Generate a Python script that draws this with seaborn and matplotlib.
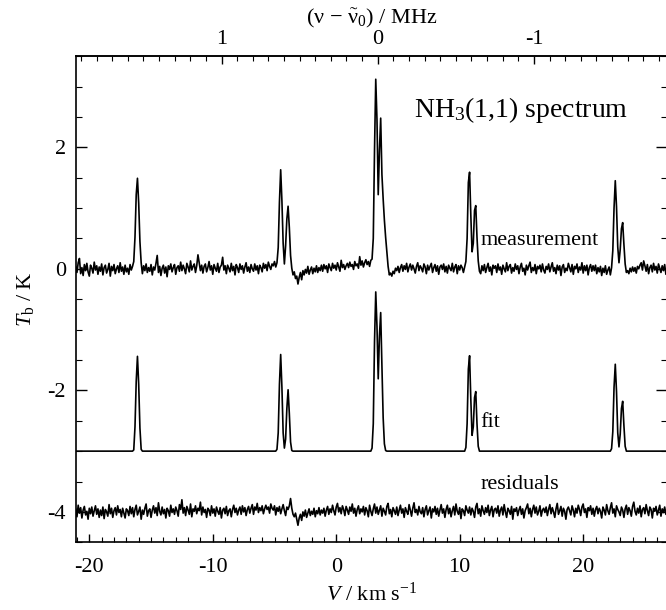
import numpy as np
import seaborn as sns
import matplotlib.pyplot as plt
from matplotlib.ticker import MultipleLocator, FixedLocator

# channel grid of the spectrum (km/s)
V_START = -21.1
DV = 0.1

# measured brightness temperature per channel (K), 20 channels per row
meas_t = [
    0.04, -0.06, 0.10, 0.17, -0.08, 0.02, -0.11, 0.07, -0.03, 0.09, -0.05, -0.12, 0.06, 0.01, -0.07, 0.11, -0.02, 0.05, -0.09, 0.03,
    -0.04, 0.08, -0.10, 0.02, 0.06, -0.07, -0.01, 0.09, -0.12, 0.04, -0.03, 0.07, -0.08, 0.00, 0.05, -0.06, 0.10, -0.04, 0.03, -0.09,
    0.06, -0.05, 0.01, -0.09, 0.07, -0.02, 0.04, 0.12, 0.52, 1.22, 1.49, 1.08, 0.45, 0.10, -0.08, 0.05, -0.03, 0.08, -0.06, 0.02,
    -0.04, 0.07, -0.10, 0.03, -0.02, 0.09, 0.22, -0.06, 0.04, -0.11, 0.01, 0.06, -0.07, 0.03, -0.13, 0.05, -0.01, 0.08, -0.05, 0.02,
    0.07, -0.09, 0.02, 0.05, -0.04, 0.11, -0.03, 0.06, 0.00, -0.08, 0.09, 0.03, -0.05, 0.13, -0.02, 0.04, 0.08, -0.06, 0.05, 0.23,
    0.10, -0.03, 0.06, -0.07, 0.04, 0.08, -0.05, 0.02, 0.12, -0.02, 0.05, -0.09, 0.07, 0.01, -0.04, 0.09, -0.06, 0.03, 0.06, 0.19,
    -0.02, 0.05, -0.08, 0.06, 0.01, -0.05, 0.09, -0.03, 0.04, -0.10, 0.07, 0.02, -0.06, 0.08, -0.01, 0.05, -0.07, 0.03, 0.10, -0.04,
    0.03, -0.06, 0.07, 0.00, -0.04, 0.08, -0.02, 0.05, -0.08, 0.06, 0.02, -0.05, 0.09, 0.01, 0.07, -0.03, 0.11, 0.04, -0.01, 0.08,
    0.05, 0.12, 0.03, 0.10, 0.35, 1.10, 1.63, 1.12, 0.42, 0.08, 0.38, 0.82, 1.03, 0.68, 0.22, 0.01, -0.10, -0.05, -0.16, -0.12,
    -0.25, -0.14, -0.06, -0.18, -0.03, -0.10, -0.01, -0.07, 0.04, -0.09, -0.02, 0.03, -0.08, 0.01, -0.05, 0.05, -0.06, 0.02, -0.03, 0.06,
    -0.04, 0.07, 0.00, 0.05, -0.06, 0.08, 0.02, -0.03, 0.09, 0.01, 0.06, -0.02, 0.10, 0.03, -0.04, 0.14, 0.02, 0.07, -0.01, 0.05,
    0.09, 0.02, 0.11, 0.04, 0.07, -0.01, 0.12, 0.05, 0.08, 0.01, 0.20, 0.06, 0.13, 0.03, 0.10, 0.15, 0.07, 0.12, 0.04, 0.14,
    0.16, 0.50, 1.95, 3.12, 2.45, 1.22, 1.95, 2.48, 1.55, 1.15, 0.80, 0.52, 0.28, 0.04, -0.10, -0.07, -0.12, -0.04, -0.08, 0.01,
    -0.03, 0.04, -0.06, 0.02, 0.07, -0.04, 0.05, -0.01, 0.09, -0.05, 0.03, 0.08, -0.02, 0.06, 0.00, -0.07, 0.04, 0.10, -0.03, 0.05,
    0.01, -0.05, 0.08, 0.03, -0.08, 0.06, -0.02, 0.04, 0.09, -0.06, 0.02, 0.07, -0.04, 0.05, -0.09, 0.03, 0.06, -0.01, 0.08, -0.05,
    0.04, -0.07, 0.06, 0.01, -0.03, 0.09, -0.05, 0.03, 0.07, -0.08, 0.05, -0.02, 0.06, 0.02, -0.06, 0.03, 0.12, 0.50, 1.42, 1.59,
    0.88, 0.28, 0.42, 0.96, 1.04, 0.52, 0.13, -0.04, -0.08, 0.05, -0.03, 0.07, -0.06, 0.02, 0.09, -0.04, 0.03, -0.10, 0.06, 0.01,
    0.05, -0.06, 0.08, -0.02, 0.03, -0.09, 0.06, 0.00, -0.05, 0.10, -0.03, 0.04, 0.07, -0.07, 0.02, -0.04, 0.08, -0.01, 0.05, -0.08,
    0.03, 0.09, -0.04, 0.01, -0.10, 0.06, -0.02, 0.05, 0.11, -0.06, 0.02, -0.03, 0.07, -0.08, 0.04, 0.00, 0.06, -0.05, 0.08, -0.02,
    -0.07, 0.04, -0.01, 0.08, -0.05, 0.03, 0.10, -0.04, 0.02, -0.08, 0.06, -0.02, 0.05, -0.11, 0.03, 0.07, -0.06, 0.01, -0.03, 0.09,
    0.02, -0.05, 0.07, -0.09, 0.04, 0.00, 0.08, -0.06, 0.03, -0.02, 0.10, -0.07, 0.05, -0.03, 0.06, -0.10, 0.02, 0.07, -0.04, 0.05,
    -0.03, 0.06, -0.08, 0.02, -0.05, 0.04, -0.11, 0.01, -0.06, 0.05, -0.09, -0.02, 0.03, -0.10, 0.02, 0.30, 1.00, 1.45, 1.02, 0.36,
    0.10, 0.32, 0.66, 0.76, 0.40, 0.08, -0.06, -0.03, -0.08, 0.01, -0.05, 0.03, -0.04, 0.02, -0.07, 0.04, 0.00, 0.06, 0.10, -0.02,
    0.13, 0.05, -0.04, 0.07, -0.08, 0.02, 0.06, -0.05, 0.09, -0.02, 0.04, -0.07, 0.08, 0.01, -0.06, 0.05, -0.03, 0.07, -0.09, 0.03,
]

# residuals (measurement - fit) per channel (K)
resid_t = [
    0.05, -0.08, 0.11, -0.02, 0.07, -0.10, 0.03, 0.09, -0.05, 0.01, -0.12, 0.06, -0.03, 0.08, -0.07, 0.02, 0.10, -0.04, 0.05, -0.09,
    0.03, -0.06, 0.08, -0.11, 0.04, 0.00, -0.07, 0.12, -0.03, 0.06, -0.09, 0.02, 0.07, -0.05, 0.10, -0.01, 0.04, -0.08, 0.06, -0.02,
    -0.10, 0.05, 0.02, -0.06, 0.09, -0.03, 0.07, -0.08, 0.04, 0.11, -0.05, 0.01, 0.08, -0.12, 0.03, -0.04, 0.06, 0.13, -0.07, 0.02,
    0.05, -0.09, 0.03, 0.10, -0.02, 0.07, -0.06, 0.15, 0.01, -0.05, 0.08, -0.03, 0.04, -0.10, 0.06, 0.02, -0.07, 0.11, -0.01, 0.05,
    -0.04, 0.08, 0.02, -0.07, 0.12, 0.04, 0.20, -0.02, 0.07, -0.06, 0.09, 0.03, -0.04, 0.13, -0.08, 0.05, 0.01, 0.10, -0.03, 0.06,
    0.02, 0.16, -0.05, 0.08, -0.01, 0.04, -0.09, 0.06, 0.03, -0.06, 0.10, -0.02, 0.05, -0.07, 0.08, 0.01, -0.04, 0.07, -0.10, 0.03,
    0.06, -0.03, 0.09, -0.06, 0.02, 0.05, -0.08, 0.04, 0.11, -0.01, 0.06, -0.05, 0.03, 0.08, -0.04, 0.10, 0.00, 0.07, -0.06, 0.04,
    0.09, -0.02, 0.06, 0.12, -0.04, 0.08, 0.03, 0.14, -0.01, 0.07, 0.02, 0.10, -0.03, 0.05, 0.11, 0.04, 0.08, -0.02, 0.13, 0.06,
    0.03, 0.10, -0.05, 0.07, 0.01, 0.09, -0.03, 0.05, 0.12, 0.02, -0.06, 0.08, 0.04, 0.10, 0.22, 0.06, -0.04, -0.08, -0.02, -0.12,
    -0.22, -0.10, -0.04, -0.14, 0.00, -0.07, 0.03, -0.09, -0.02, 0.05, -0.06, 0.01, -0.04, 0.06, -0.08, 0.02, -0.03, 0.07, -0.05, 0.03,
    -0.02, 0.06, -0.07, 0.03, 0.09, -0.04, 0.05, -0.01, 0.11, 0.02, -0.05, 0.08, 0.14, 0.00, 0.07, -0.03, 0.10, 0.04, -0.06, 0.09,
    0.03, -0.04, 0.08, 0.01, 0.13, -0.02, 0.06, -0.07, 0.04, 0.10, -0.03, 0.05, 0.00, 0.09, -0.05, 0.07, 0.02, -0.08, 0.11, 0.01,
    -0.06, 0.05, 0.13, -0.02, 0.08, -0.04, 0.03, 0.10, -0.07, 0.06, 0.01, -0.05, 0.09, 0.14, -0.03, 0.04, -0.08, 0.07, 0.02, -0.04,
    0.08, -0.06, 0.03, 0.11, -0.02, 0.05, -0.09, 0.07, 0.01, -0.04, 0.12, 0.03, -0.07, 0.06, 0.15, -0.01, 0.04, -0.05, 0.09, 0.00,
    -0.03, 0.07, -0.08, 0.04, 0.10, -0.05, 0.02, 0.08, -0.10, 0.05, 0.00, 0.09, -0.04, 0.06, -0.07, 0.03, 0.12, -0.02, 0.05, -0.09,
    0.04, 0.11, -0.03, 0.06, -0.08, 0.02, 0.09, -0.05, 0.13, 0.01, -0.04, 0.07, -0.11, 0.05, 0.02, -0.06, 0.10, 0.03, -0.02, 0.08,
    -0.05, 0.06, 0.01, -0.09, 0.08, 0.14, -0.03, 0.05, -0.07, 0.10, 0.02, -0.04, 0.07, -0.01, 0.11, -0.06, 0.03, 0.09, -0.08, 0.04,
    0.06, -0.02, 0.10, -0.07, 0.03, 0.08, -0.05, 0.12, 0.00, -0.09, 0.06, 0.02, -0.04, 0.09, -0.12, 0.05, 0.01, 0.07, -0.06, 0.03,
    0.09, -0.04, 0.05, -0.10, 0.02, 0.07, 0.13, -0.03, 0.06, -0.08, 0.04, 0.11, -0.02, 0.08, -0.05, 0.01, 0.10, -0.07, 0.03, 0.06,
    -0.01, 0.08, -0.06, 0.04, 0.12, -0.03, 0.07, 0.00, -0.09, 0.05, 0.14, -0.04, 0.02, 0.09, -0.07, 0.06, 0.01, -0.12, 0.04, 0.08,
    0.02, -0.05, 0.10, 0.03, -0.08, 0.06, -0.02, 0.11, 0.04, -0.06, 0.08, 0.13, -0.01, 0.05, -0.09, 0.07, 0.02, 0.10, -0.04, 0.06,
    -0.07, 0.04, 0.09, -0.03, 0.06, 0.01, -0.10, 0.08, 0.03, -0.05, 0.12, 0.02, -0.04, 0.07, 0.15, -0.02, 0.05, -0.08, 0.10, 0.04,
    0.00, -0.06, 0.08, 0.03, -0.09, 0.05, 0.11, -0.04, 0.07, 0.02, -0.07, 0.09, 0.16, 0.01, -0.05, 0.06, -0.02, 0.10, -0.08, 0.04,
    0.07, -0.03, 0.12, 0.02, -0.06, 0.08, 0.04, -0.10, 0.06, 0.01, 0.09, -0.05, 0.03, 0.11, -0.07, 0.05, -0.01, 0.08, -0.04, 0.02,
]

# hyperfine fit model (velocity km/s, T K)
fit_v = [-21.1,
         -16.5, -16.4, -16.3, -16.2, -16.1, -16.0, -15.9, -15.8, -15.7,
         -4.9, -4.8, -4.7, -4.6, -4.5, -4.4, -4.3, -4.2, -4.1, -4.0, -3.9, -3.8, -3.7, -3.6, -3.5,
         2.8, 2.9, 3.0, 3.1, 3.2, 3.3, 3.4, 3.5, 3.6, 3.7, 3.8, 3.9, 4.0, 4.1,
         10.4, 10.5, 10.6, 10.7, 10.8, 10.9, 11.0, 11.1, 11.2, 11.3, 11.4, 11.5, 11.6,
         22.2, 22.3, 22.4, 22.5, 22.6, 22.7, 22.8, 22.9, 23.0, 23.1, 23.2, 23.3, 23.4, 23.5,
         26.8]
fit_t = [0.0,
         0.0, 0.02, 0.40, 1.15, 1.56, 1.10, 0.38, 0.03, 0.0,
         0.0, 0.03, 0.30, 1.10, 1.59, 1.05, 0.30, 0.05, 0.20, 0.70, 1.01, 0.62, 0.15, 0.01, 0.0,
         0.0, 0.05, 0.45, 1.80, 2.62, 2.05, 1.19, 1.90, 2.28, 1.40, 0.55, 0.12, 0.01, 0.0,
         0.0, 0.06, 0.45, 1.35, 1.57, 0.85, 0.26, 0.40, 0.88, 0.98, 0.45, 0.08, 0.0,
         0.0, 0.04, 0.32, 1.05, 1.43, 0.98, 0.30, 0.07, 0.28, 0.70, 0.82, 0.42, 0.08, 0.0,
         0.0]

# display offsets of the stacked curves
FIT_OFFSET = -3.0
RESID_OFFSET = -4.0

# frequency axis: 0 MHz at the main line, NH3(1,1) km/s per MHz
V0 = 3.36
KMS_PER_MHZ = 12.65

sns.set_theme(style="ticks")
plt.rcParams["font.family"] = ["Liberation Serif", "DejaVu Serif"]
plt.rcParams["mathtext.fontset"] = "custom"
plt.rcParams["mathtext.rm"] = "Liberation Serif"
plt.rcParams["mathtext.it"] = "Liberation Serif:italic"
plt.rcParams["mathtext.bf"] = "Liberation Serif:bold"
plt.rcParams["axes.unicode_minus"] = False
plt.rcParams["axes.linewidth"] = 1.2
plt.rcParams["text.color"] = "black"
plt.rcParams["axes.labelcolor"] = "black"

vel = V_START + DV * np.arange(len(meas_t))
meas = np.array(meas_t)
resid = np.array(resid_t) + RESID_OFFSET
fit = np.array(fit_t) + FIT_OFFSET

fig = plt.figure(figsize=(6.66, 6.10), dpi=100)
ax = fig.add_axes([0.1137, 0.111, 0.888, 0.797])

kw = dict(color="black", linewidth=1.2, estimator=None, sort=False, ax=ax)
sns.lineplot(x=vel, y=meas, **kw)
sns.lineplot(x=np.array(fit_v), y=fit, **kw)
sns.lineplot(x=vel, y=resid, **kw)

ax.set_xlim(-21.1, 26.8)
ax.set_ylim(-4.5, 3.5)
ax.xaxis.set_major_locator(MultipleLocator(10))
ax.xaxis.set_minor_locator(MultipleLocator(1))
ax.yaxis.set_major_locator(MultipleLocator(2))
ax.yaxis.set_minor_locator(MultipleLocator(0.5))
ax.tick_params(axis="both", which="both", direction="in", colors="black",
               labelsize=16, top=False, right=True, left=True, bottom=True)
ax.tick_params(axis="x", which="major", length=6, width=1.0, pad=11)
ax.tick_params(axis="x", which="minor", length=3.5, width=0.8)
ax.tick_params(axis="y", which="major", length=8, width=1.0, pad=7)
ax.tick_params(axis="y", which="minor", length=4.5, width=0.8)
for s in ax.spines.values():
    s.set_color("black")

ax.set_xlabel(r"$V$ / km s$^{-1}$", fontsize=16, labelpad=4)
ax.set_ylabel(r"$T_\mathrm{b}$ / K", fontsize=16, labelpad=8)

top = ax.secondary_xaxis("top", functions=(lambda v: (V0 - v) / KMS_PER_MHZ,
                                           lambda f: V0 - f * KMS_PER_MHZ))
top.xaxis.set_major_locator(FixedLocator([1, 0, -1]))
top.xaxis.set_minor_locator(MultipleLocator(0.1))
top.tick_params(which="both", direction="in", labelsize=16, colors="black")
top.tick_params(which="major", length=6, width=1.0, pad=5)
top.tick_params(which="minor", length=3.5, width=0.8)
top.set_xlabel("(ν \u2212 " + r"$\tilde{\mathrm{\nu}}_0$" + ") / MHz", fontsize=16, labelpad=5)

ax.text(6.3, 2.5, r"NH$_3$(1,1) spectrum", fontsize=20, va="baseline", ha="left")
ax.text(11.65, 0.4, "measurement", fontsize=16, va="baseline", ha="left")
ax.text(11.65, -2.6, "fit", fontsize=16, va="baseline", ha="left")
ax.text(11.65, -3.62, "residuals", fontsize=16, va="baseline", ha="left")

fig.savefig("out.png", dpi=100)
